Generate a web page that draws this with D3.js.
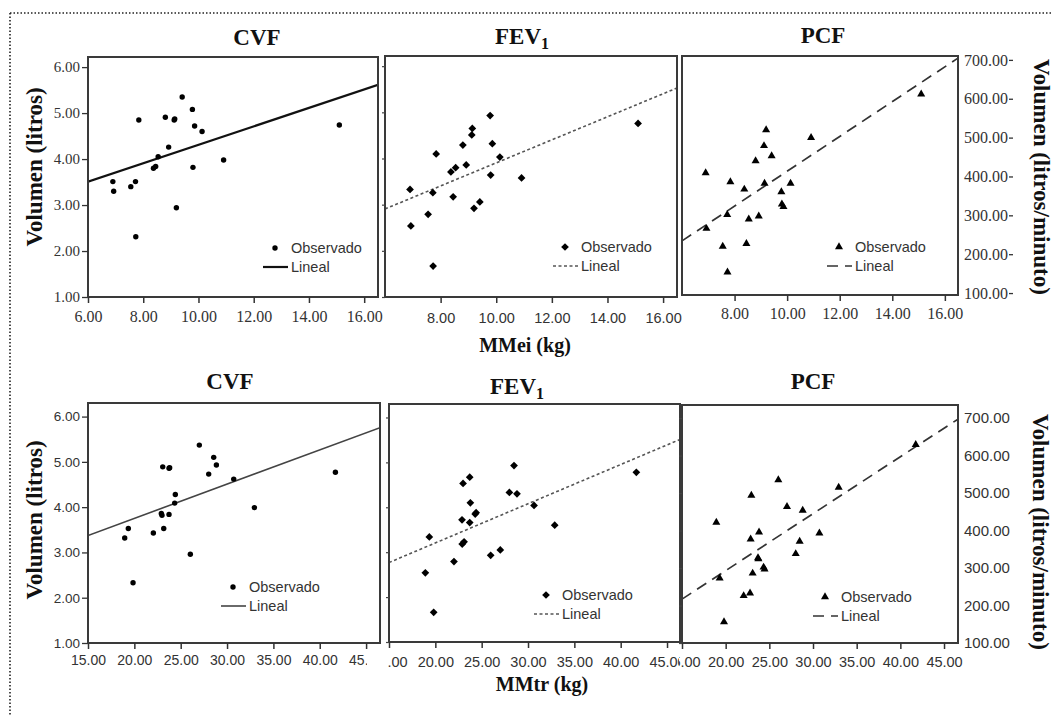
<!DOCTYPE html>
<html><head><meta charset="utf-8">
<script src="https://cdn.jsdelivr.net/npm/d3@7"></script>
<style>body{margin:0;background:#fff}</style>
</head><body><svg id="c" width="1051" height="715"></svg>
<script>
// ---------- DATA ----------
const mmei     = [6.90, 6.93, 7.55, 7.72, 7.73, 7.84, 8.37, 8.45, 8.54, 8.80, 8.92, 9.12, 9.14, 9.20, 9.41, 9.78, 9.80, 9.86, 10.13, 10.91, 15.10];
const cvfTop   = [3.51, 3.30, 3.40, 3.51, 2.31, 4.85, 3.80, 3.84, 4.05, 4.91, 4.26, 4.85, 4.87, 2.94, 5.35, 5.08, 3.82, 4.72, 4.60, 3.98, 4.74];
const fev1Top  = [3.33, 2.54, 2.79, 3.26, 1.67, 4.10, 3.71, 3.17, 3.80, 4.29, 3.86, 4.51, 4.65, 2.92, 3.06, 4.93, 3.64, 4.32, 4.03, 3.58, 4.76];
const pcfTop   = [409, 266, 220, 302, 154, 386, 367, 227, 290, 440, 298, 479, 382, 520, 453, 360, 329, 322, 382, 500, 612];

const mmtrCVF   = [18.96, 19.35, 19.86, 22.05, 23.06, 22.91, 22.98, 23.17, 23.81, 23.74, 23.74, 24.42, 24.35, 26.04, 27.01, 28.02, 28.56, 28.85, 30.72, 32.95, 41.69];
const cvfBottom = [3.32, 3.53, 2.33, 3.43, 4.89, 3.86, 3.82, 3.53, 4.87, 4.86, 3.84, 4.28, 4.09, 2.96, 5.37, 4.73, 5.10, 4.93, 4.62, 3.99, 4.77];
const mmtrFEV1   = [18.92, 19.35, 19.82, 22.01, 22.88, 22.99, 22.90, 23.10, 23.71, 23.78, 23.71, 24.30, 24.40, 25.97, 27.01, 27.99, 28.49, 28.81, 30.65, 32.88, 41.69];
const fev1Bottom = [2.54, 3.34, 1.66, 2.79, 3.72, 4.53, 3.18, 3.23, 4.67, 4.10, 3.66, 3.85, 3.88, 2.93, 3.05, 4.33, 4.93, 4.30, 4.04, 3.60, 4.78];
const mmtrPCF   = [18.93, 19.31, 19.81, 22.06, 22.79, 22.94, 22.86, 23.09, 23.82, 23.70, 23.75, 24.34, 24.45, 26.03, 27.02, 28.02, 28.47, 28.82, 30.73, 32.94, 41.76];
const pcfBottom = [422, 273, 156, 226, 233, 494, 377, 286, 396, 327, 324, 302, 297, 535, 464, 338, 371, 454, 393, 515, 629];

// linear fit (intercept, slope): CVF, FEV1, PCF top; CVF, FEV1, PCF bottom
const fitIntercepts = [2.30, 1.41, -34.6, 2.24, 1.46, -11];
const fitSlopes     = [0.201, 0.2495, 44.8, 0.0756, 0.0873, 15.2];

const xTicksTop    = [6, 8, 10, 12, 14, 16];
const xTicksTopCut = [8, 10, 12, 14, 16];
const xTicksBottom = [15, 20, 25, 30, 35, 40, 45];
const yTicksVol    = [1, 2, 3, 4, 5, 6];
const yTicksPCF    = [100, 200, 300, 400, 500, 600, 700];
const legendLabels = ["Observado", "Lineal"];
const yTitleLeft   = "Volumen (litros)";
const yTitleRight  = "Volumen (litros/minuto)";
const xTitleTop    = "MMei (kg)";
const xTitleBottom = "MMtr (kg)";

// ---------- LAYOUT ----------
const SERIF = "Liberation Serif";
const SANS  = "Liberation Sans";
const panels = [
  {xs: mmei, ys: cvfTop, kind: "cvf", box: [88, 378, 57, 297], xd: [6, 16.5], yd: [1, 6.22],
   xTicks: xTicksTop, xFont: SERIF, xSize: 16, xOff: 24.5, yLeft: {ticks: yTicksVol, font: SERIF, size: 15},
   leg: [275, 248], title: {t: "CVF", x: 257, y: 45}, line: {c: "#111", w: 2.2, dash: null}},
  {xs: mmei, ys: fev1Top, kind: "fev", box: [385, 677, 56, 297], xd: [6, 16.5], yd: [1, 6.22],
   xTicks: xTicksTopCut, xFont: SANS, xSize: 14.5, xOff: 26, edgeTicks: yTicksVol,
   leg: [565, 247], title: {t: "FEV", x: 522, y: 44, sub: true}, line: {c: "#555", w: 1.6, dash: "3,2.5"}},
  {xs: mmei, ys: pcfTop, kind: "pcf", box: [682, 958, 56, 295], xd: [6, 16.5], yd: [95, 710],
   xTicks: xTicksTopCut, xFont: SERIF, xSize: 16, xOff: 23.5, yRight: {ticks: yTicksPCF, font: SERIF, size: 16, dash: true},
   leg: [839, 247], title: {t: "PCF", x: 823, y: 43}, line: {c: "#333", w: 1.7, dash: "11,7"}},
  {xs: mmtrCVF, ys: cvfBottom, kind: "cvf", box: [88, 380, 403, 643], xd: [15, 46.5], yd: [1, 6.3],
   xTicks: xTicksBottom, xFont: SANS, xSize: 14, xOff: 22, xClip: [0, 367], yLeft: {ticks: yTicksVol, font: SANS, size: 13.5},
   leg: [233, 587], title: {t: "CVF", x: 230, y: 389}, line: {c: "#444", w: 1.6, dash: null}},
  {xs: mmtrFEV1, ys: fev1Bottom, kind: "fev", box: [389, 680, 404, 642], xd: [15, 46.4], yd: [1, 6.3],
   xTicks: xTicksBottom, xFont: SANS, xSize: 14.5, xOff: 25, xClip: [388, 679], edgeTicks: yTicksVol,
   leg: [546, 595], title: {t: "FEV", x: 517, y: 394, sub: true}, line: {c: "#555", w: 1.6, dash: "3,2.5"}},
  {xs: mmtrPCF, ys: pcfBottom, kind: "pcf", box: [682, 958, 405, 643], xd: [15, 46.6], yd: [100, 735],
   xTicks: xTicksBottom, xFont: SANS, xSize: 14.5, xOff: 23.5, xClip: [679, 1051], edgeTicks: yTicksPCF,
   yRight: {ticks: yTicksPCF, font: SANS, size: 15, dash: false},
   leg: [825, 597], title: {t: "PCF", x: 813, y: 389}, line: {c: "#333", w: 1.7, dash: "11,7"}}
];

const svg = d3.select("#c");
svg.append("rect").attr("width", 1051).attr("height", 715).attr("fill", "#fff");
const defs = svg.append("defs");

// dotted frame
svg.append("line").attr("x1", 10).attr("y1", 13).attr("x2", 1051).attr("y2", 13)
  .attr("stroke", "#222").attr("stroke-width", 1.6).attr("stroke-dasharray", "1.5,2");
svg.append("line").attr("x1", 10).attr("y1", 13).attr("x2", 10).attr("y2", 715)
  .attr("stroke", "#222").attr("stroke-width", 1.6).attr("stroke-dasharray", "1.5,2");

function marker(g, kind, cx, cy) {
  if (kind === "cvf") {
    g.append("circle").attr("cx", cx).attr("cy", cy).attr("r", 2.7).attr("fill", "#000");
  } else if (kind === "fev") {
    g.append("path").attr("d", d3.symbol(d3.symbolSquare, 30)())
      .attr("transform", `translate(${cx},${cy}) rotate(45)`).attr("fill", "#000");
  } else {
    g.append("path").attr("d", d3.symbol(d3.symbolTriangle, 28)())
      .attr("transform", `translate(${cx},${cy})`).attr("fill", "#000");
  }
}
function font(sel, fam, size, weight) {
  sel.attr("font-family", fam).attr("font-size", size);
  if (weight) sel.attr("font-weight", weight);
  return sel;
}

panels.forEach((p, i) => {
  const [bx0, bx1, by0, by1] = p.box;
  const x = d3.scaleLinear().domain(p.xd).range([bx0, bx1]);
  const y = d3.scaleLinear().domain(p.yd).range([by1, by0]);
  const g = svg.append("g");

  const cid = "clip" + i;
  defs.append("clipPath").attr("id", cid).append("rect")
    .attr("x", bx0).attr("y", by0).attr("width", bx1 - bx0).attr("height", by1 - by0);

  // fit line
  const a = fitIntercepts[i], b = fitSlopes[i];
  g.append("line").attr("clip-path", `url(#${cid})`)
    .attr("x1", x(p.xd[0])).attr("y1", y(a + b * p.xd[0]))
    .attr("x2", x(p.xd[1])).attr("y2", y(a + b * p.xd[1]))
    .attr("stroke", p.line.c).attr("stroke-width", p.line.w)
    .attr("stroke-dasharray", p.line.dash);

  // points
  const pg = g.append("g");
  p.xs.forEach((xv, k) => marker(pg, p.kind, x(xv), y(p.ys[k])));

  // box
  g.append("rect").attr("x", bx0).attr("y", by0).attr("width", bx1 - bx0).attr("height", by1 - by0)
    .attr("fill", "none").attr("stroke", "#3a3a3a").attr("stroke-width", 2);

  // x axis
  const xa = g.append("g").attr("transform", `translate(0,${by1})`)
    .call(d3.axisBottom(x).tickValues(p.xTicks).tickSize(6).tickFormat(d3.format(".2f")));
  xa.select(".domain").remove();
  xa.selectAll("line").attr("stroke", "#333").attr("stroke-width", 1.5);
  font(xa.selectAll("text").attr("y", p.xOff).attr("dy", null).attr("fill", "#333"), p.xFont, p.xSize);
  if (p.xClip) {
    const xc = "xclip" + i;
    defs.append("clipPath").attr("id", xc).append("rect")
      .attr("x", p.xClip[0]).attr("y", by1 - 5).attr("width", p.xClip[1] - p.xClip[0]).attr("height", 40);
    const lab = g.append("g").attr("clip-path", `url(#${xc})`);
    xa.selectAll(".tick").each(function () {
      const t = d3.select(this);
      const tr = t.attr("transform");
      const txt = t.select("text");
      font(lab.append("text").attr("transform", `translate(0,${by1}) ${tr}`)
        .attr("y", p.xOff).attr("text-anchor", "middle").attr("fill", "#333"), p.xFont, p.xSize)
        .text(txt.text());
      txt.remove();
    });
  }

  // left y axis with labels
  if (p.yLeft) {
    const ya = g.append("g").attr("transform", `translate(${bx0},0)`)
      .call(d3.axisLeft(y).tickValues(p.yLeft.ticks).tickSize(6).tickPadding(2).tickFormat(d3.format(".2f")));
    ya.select(".domain").remove();
    ya.selectAll("line").attr("stroke", "#333").attr("stroke-width", 1.3);
    font(ya.selectAll("text").attr("fill", "#333"), p.yLeft.font, p.yLeft.size);
  }
  // small edge ticks without labels
  if (p.edgeTicks) {
    const ea = g.append("g").attr("transform", `translate(${bx0},0)`)
      .call(d3.axisLeft(y).tickValues(p.edgeTicks).tickSize(3).tickFormat(""));
    ea.select(".domain").remove();
    ea.selectAll("line").attr("stroke", "#444").attr("stroke-width", 1.2);
  }
  // right y axis
  if (p.yRight) {
    const ra = g.append("g").attr("transform", `translate(${bx1},0)`)
      .call(d3.axisRight(y).tickValues(p.yRight.ticks).tickSize(0).tickPadding(6).tickFormat(d3.format(".2f")));
    ra.select(".domain").remove();
    font(ra.selectAll("text").attr("fill", "#333"), p.yRight.font, p.yRight.size);
    if (p.yRight.dash) {
      ra.selectAll(".tick").append("line").attr("x1", 51).attr("x2", 55).attr("stroke", "#333").attr("stroke-width", 1.3);
    }
  }

  // legend
  const [sx, sy] = p.leg;
  const lg = g.append("g");
  marker(lg, p.kind, sx, sy);
  lg.append("line").attr("x1", sx - 12).attr("x2", sx + 13).attr("y1", sy + 19).attr("y2", sy + 19)
    .attr("stroke", p.line.c).attr("stroke-width", p.line.w).attr("stroke-dasharray", p.line.dash);
  font(lg.selectAll("text.lt").data(legendLabels).join("text").attr("class", "lt")
    .attr("x", sx + 16).attr("y", (d, k) => sy + 5 + k * 19).attr("fill", "#333"), SANS, 14.5)
    .text(d => d);

  // title
  const tt = font(svg.append("text").attr("x", p.title.x).attr("y", p.title.y).attr("text-anchor", "middle")
    .attr("fill", "#111"), SERIF, 23, "bold");
  tt.append("tspan").text(p.title.t);
  if (p.title.sub) tt.append("tspan").attr("dy", 5).attr("font-size", 16).text("1");
});

// axis titles
function title(txt, x, y, rot) {
  font(svg.append("text").attr("transform", `translate(${x},${y}) rotate(${rot})`).attr("text-anchor", "middle")
    .attr("fill", "#111"), SERIF, 23, "bold").text(txt);
}
title(yTitleLeft, 42, 167, -90);
title(yTitleLeft, 42, 520, -90);
title(yTitleRight, 1034, 177, 90);
title(yTitleRight, 1033, 532, 90);
font(svg.append("text").attr("x", 525).attr("y", 352).attr("text-anchor", "middle").attr("fill", "#111"), SERIF, 20, "bold").text(xTitleTop);
font(svg.append("text").attr("x", 542).attr("y", 691).attr("text-anchor", "middle").attr("fill", "#111"), SERIF, 20, "bold").text(xTitleBottom);
</script>
</body></html>
